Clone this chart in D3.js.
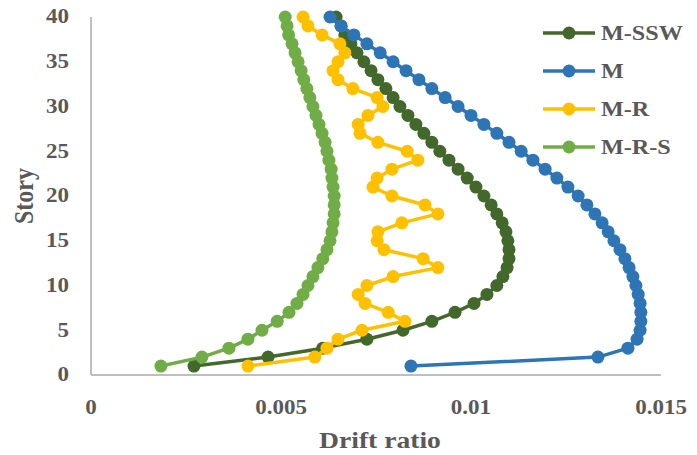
<!DOCTYPE html>
<html>
<head>
<meta charset="utf-8">
<script src="https://cdn.jsdelivr.net/npm/d3@7"></script>
<style>
  body { margin: 0; background: #fff; }
  text { font-family: "Liberation Serif", "Times New Roman", serif; font-weight: bold; fill: #595959; }
</style>
</head>
<body>
<svg id="chart" width="697" height="455"></svg>
<script>
// stories 1..40
var stories = d3.range(1, 41);

var seriesNames = ["M-SSW", "M", "M-R", "M-R-S"];
var seriesColors = ["#43682B", "#2E75B6", "#FFC000", "#70AD47"];

var driftMSSW = [0.00271, 0.00466, 0.0061, 0.00726, 0.00821, 0.00897, 0.00958, 0.01008, 0.01042, 0.01068,
	0.01084, 0.01095, 0.011, 0.011, 0.01097, 0.01092, 0.01082, 0.01068, 0.01053, 0.01034,
	0.01013, 0.0099, 0.00966, 0.00942, 0.00918, 0.00897, 0.00876, 0.00855, 0.00834, 0.00813,
	0.00795, 0.00776, 0.00755, 0.00737, 0.00718, 0.007, 0.00684, 0.00668, 0.00658, 0.00645];

var driftM = [0.00842, 0.01334, 0.01413, 0.01437, 0.01445, 0.01447, 0.01447, 0.01445, 0.0144, 0.01434,
	0.01426, 0.01416, 0.01405, 0.01392, 0.01376, 0.01361, 0.01345, 0.01326, 0.01305, 0.01282,
	0.01255, 0.01226, 0.01195, 0.01163, 0.01132, 0.011, 0.01068, 0.01034, 0.01, 0.00966,
	0.00932, 0.00897, 0.00863, 0.00829, 0.00795, 0.00761, 0.00726, 0.00692, 0.00658, 0.00629];

var driftMR = [0.00413, 0.00589, 0.00621, 0.0065, 0.00713, 0.00826, 0.00782, 0.00721, 0.00703, 0.00726,
	0.00795, 0.00913, 0.00874, 0.00771, 0.00753, 0.00755, 0.00818, 0.00913, 0.00879, 0.00792,
	0.00742, 0.00753, 0.00792, 0.0086, 0.00832, 0.00755, 0.00708, 0.00703, 0.00729, 0.00768,
	0.00753, 0.00689, 0.0065, 0.00637, 0.0065, 0.00668, 0.00655, 0.00608, 0.00571, 0.00558];

var driftMRS = [0.00184, 0.00292, 0.00363, 0.00413, 0.0045, 0.0049, 0.00521, 0.00542, 0.00558, 0.00571,
	0.00584, 0.00597, 0.0061, 0.00621, 0.00629, 0.00634, 0.00637, 0.0064, 0.0064, 0.0064,
	0.00637, 0.00634, 0.00632, 0.00626, 0.00621, 0.00616, 0.00608, 0.006, 0.00592, 0.00584,
	0.00576, 0.00568, 0.0056, 0.00553, 0.00545, 0.00537, 0.00529, 0.0052, 0.00516, 0.00511];

var xTicks = [0, 0.005, 0.01, 0.015];
var xTickLabels = ["0", "0.005", "0.01", "0.015"];
var yTicks = [0, 5, 10, 15, 20, 25, 30, 35, 40];

var allSeries = [driftMSSW, driftM, driftMR, driftMRS];

var STRETCH = 1.15;  // text in the source is a bit wide
var DOT_R = 6.5;

var svg = d3.select("#chart");

var x = d3.scaleLinear().domain([0, 0.015]).range([91, 661]);
var y = d3.scaleLinear().domain([0, 40]).range([375, 17]);

// axis lines
svg.append("line")
	.attr("x1", x(0)).attr("x2", x(0.015))
	.attr("y1", y(0)).attr("y2", y(0))
	.attr("stroke", "#BFBFBF").attr("stroke-width", 2);
svg.append("line")
	.attr("x1", x(0)).attr("x2", x(0))
	.attr("y1", y(0)).attr("y2", y(40))
	.attr("stroke", "#BFBFBF").attr("stroke-width", 2);

// tick labels
svg.selectAll(".ylab").data(yTicks).enter()
	.append("text")
	.attr("class", "ylab")
	.attr("font-size", 20)
	.attr("text-anchor", "end")
	.attr("dominant-baseline", "central")
	.attr("transform", function(d) { return "translate(69," + y(d) + ")scale(" + STRETCH + ",1)"; })
	.text(function(d) { return d; });

svg.selectAll(".xlab").data(xTicks).enter()
	.append("text")
	.attr("class", "xlab")
	.attr("font-size", 20)
	.attr("text-anchor", "middle")
	.attr("transform", function(d) { return "translate(" + x(d) + ",414)scale(" + STRETCH + ",1)"; })
	.text(function(d, i) { return xTickLabels[i]; });

// axis titles
svg.append("text")
	.attr("font-size", 24)
	.attr("text-anchor", "middle")
	.attr("transform", "translate(380,448)scale(" + STRETCH + ",1)")
	.text("Drift ratio");

svg.append("text")
	.attr("font-size", 24)
	.attr("text-anchor", "middle")
	.attr("transform", "translate(33,196)scale(" + STRETCH + ",1)rotate(-90)")
	.text("Story");

// series
var line = d3.line()
	.x(function(d) { return x(d[0]); })
	.y(function(d) { return y(d[1]); });

allSeries.forEach(function(vals, i) {
	var pts = vals.map(function(v, j) { return [v, stories[j]]; });
	var g = svg.append("g");
	g.append("path")
		.attr("d", line(pts))
		.attr("fill", "none")
		.attr("stroke", seriesColors[i])
		.attr("stroke-width", 3.5)
		.attr("stroke-linejoin", "round");
	g.selectAll("circle").data(pts).enter()
		.append("circle")
		.attr("cx", function(d) { return x(d[0]); })
		.attr("cy", function(d) { return y(d[1]); })
		.attr("r", DOT_R)
		.attr("fill", seriesColors[i]);
});

// legend
var legend = svg.selectAll(".legend").data(seriesNames).enter()
	.append("g")
	.attr("class", "legend")
	.attr("transform", function(d, i) { return "translate(543," + (33 + i * 38) + ")"; });

legend.append("line")
	.attr("x1", 0).attr("x2", 52)
	.attr("stroke", function(d, i) { return seriesColors[i]; })
	.attr("stroke-width", 3.5);
legend.append("circle")
	.attr("cx", 26).attr("r", DOT_R)
	.attr("fill", function(d, i) { return seriesColors[i]; });
legend.append("text")
	.attr("font-size", 21)
	.attr("dominant-baseline", "central")
	.attr("transform", "translate(58,0)scale(" + STRETCH + ",1)")
	.text(function(d) { return d; });
</script>
</body>
</html>
